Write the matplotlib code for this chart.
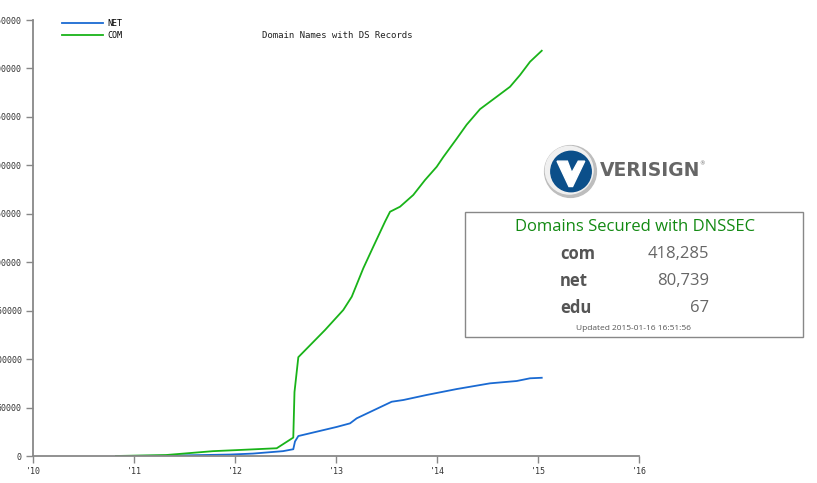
import matplotlib
matplotlib.use("Agg")
import matplotlib.pyplot as plt
from matplotlib.patches import Rectangle, Circle, Polygon

# ---- data ----
com_years = [2010.822, 2011.317, 2011.782, 2012.0, 2012.413, 2012.577, 2012.589,
             2012.627, 2012.891, 2013.072, 2013.156, 2013.270, 2013.369, 2013.485,
             2013.535, 2013.634, 2013.765, 2013.881, 2013.997, 2014.062, 2014.195,
             2014.294, 2014.426, 2014.591, 2014.723, 2014.822, 2014.921, 2015.037]
com_values = [0, 1000, 5000, 6000, 8000, 19000, 66000,
              102000, 130000, 150700, 164400, 193700, 216000, 241800,
              252100, 257300, 269400, 284800, 298500, 308500, 327500,
              342000, 358000, 370800, 381100, 393200, 406900, 418285]

net_years = [2010.822, 2011.317, 2011.95, 2012.178, 2012.475, 2012.577, 2012.594,
             2012.627, 2013.007, 2013.139, 2013.205, 2013.551, 2013.667, 2013.898,
             2014.195, 2014.525, 2014.789, 2014.921, 2015.037]
net_values = [0, 300, 1500, 2500, 5000, 7000, 15000,
              20600, 30000, 33700, 38900, 56000, 57800, 63000,
              69100, 75000, 77400, 80200, 80739]

x_ticks = [2010, 2011, 2012, 2013, 2014, 2015, 2016]
x_tick_labels = ["'10", "'11", "'12", "'13", "'14", "'15", "'16"]
y_ticks = [0, 50000, 100000, 150000, 200000, 250000, 300000, 350000, 400000, 450000]

title = "Domain Names with DS Records"
box_title = "Domains Secured with DNSSEC"
box_rows = [("com", "418,285"), ("net", "80,739"), ("edu", "67")]
updated = "Updated 2015-01-16 16:51:56"

W, H = 817, 483
fig = plt.figure(figsize=(W / 100, H / 100), dpi=100)

def fx(px):
    return px / W

def fy(py):
    return 1 - py / H

ax = fig.add_axes([fx(33), fy(456), fx(639) - fx(33), fy(20) - fy(456)])
ax.plot(net_years, net_values, color="#1a6ad2", lw=1.3, label="NET")
ax.plot(com_years, com_values, color="#19b319", lw=1.3, label="COM")
ax.set_xlim(2010, 2016)
ax.set_ylim(0, 450000)
ax.set_xticks(x_ticks)
ax.set_xticklabels(x_tick_labels)
ax.set_yticks(y_ticks)
ax.set_yticklabels([str(v) for v in y_ticks])
for s in ["top", "right"]:
    ax.spines[s].set_visible(False)
for s in ["left", "bottom"]:
    ax.spines[s].set_color("#888888")
    ax.spines[s].set_linewidth(1.3)
ax.tick_params(axis="both", colors="#888888", length=5, width=1, labelsize=6,
               labelcolor="#333333", pad=3)
for lab in ax.get_xticklabels() + ax.get_yticklabels():
    lab.set_family("DejaVu Sans Mono")

leg = ax.legend(loc="upper left", bbox_to_anchor=(0.035, 1.02), frameon=False,
                prop={"family": "DejaVu Sans Mono", "size": 6}, handlelength=5,
                labelspacing=0.4, handletextpad=0.5)

fig.text(fx(337), fy(35), title, ha="center", va="center", fontsize=6.5,
         family="DejaVu Sans Mono", color="#222222")

# ---- Verisign logo ----
lax = fig.add_axes([fx(542), fy(200), fx(57), fy(143) - fy(200)])
lax.set_xlim(-1.1, 1.1)
lax.set_ylim(-1.1, 1.1)
lax.set_aspect("equal")
lax.axis("off")
lax.add_patch(Circle((0, 0), 1.0, color="#bdbdbd"))
lax.add_patch(Circle((-0.05, 0.05), 0.92, color="#f0f0f0"))
lax.add_patch(Circle((0.02, 0.0), 0.78, color="#0b4f8a"))
lax.add_patch(Polygon([(-0.52, 0.40), (-0.12, 0.40), (0.05, -0.05), (0.30, 0.40),
                       (0.55, 0.40), (0.08, -0.58), (-0.06, -0.58)],
                      closed=True, color="white"))
fig.text(fx(600), fy(170), "VERISIGN", ha="left", va="center", fontsize=13.5,
         fontweight="bold", color="#666666", family="DejaVu Sans")
fig.text(fx(699), fy(164), "\u00ae", ha="left", va="center", fontsize=4,
         color="#666666")

# ---- info box ----
fig.patches.append(Rectangle((fx(465), fy(337)), fx(803) - fx(465), fy(212) - fy(337),
                             transform=fig.transFigure, fill=False,
                             edgecolor="#888888", lw=1))
fig.text(fx(635), fy(227), box_title, ha="center", va="center", fontsize=12,
         color="#138a13", family="Open Sans")
row_y = [254, 281, 308]
for (name, val), yy in zip(box_rows, row_y):
    fig.text(fx(560), fy(yy), name, ha="left", va="center", fontsize=12,
             fontweight="bold", color="#555555", family="Open Sans")
    fig.text(fx(709), fy(yy), val, ha="right", va="center", fontsize=12,
             color="#666666", family="Open Sans")
fig.text(fx(634), fy(328), updated, ha="center", va="center", fontsize=6,
         color="#555555", family="Open Sans")

fig.savefig("out.png", dpi=100)
